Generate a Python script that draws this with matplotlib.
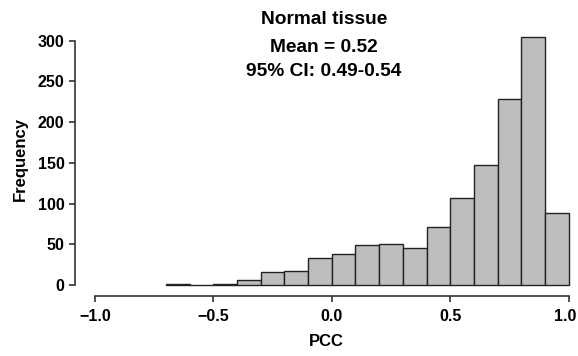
import numpy as np
import matplotlib
matplotlib.use("Agg")
import matplotlib.pyplot as plt
from matplotlib.transforms import ScaledTranslation

plt.rcParams['font.family'] = ['Liberation Sans', 'DejaVu Sans']
plt.rcParams['font.weight'] = 'bold'

# histogram bins (PCC) and counts
bin_edges = [-0.7, -0.6, -0.5, -0.4, -0.3, -0.2, -0.1, 0.0, 0.1, 0.2,
             0.3, 0.4, 0.5, 0.6, 0.7, 0.8, 0.9, 1.0]
counts = [1, 0, 1, 6, 16, 17, 33, 38, 49, 50, 45, 71, 107, 147, 229, 304, 88]

x_ticks = [-1.0, -0.5, 0.0, 0.5, 1.0]
x_labels = ['\u22121.0', '\u22120.5', '0.0', '0.5', '1.0']
y_ticks = [0, 50, 100, 150, 200, 250, 300]

W, H = 578, 356
fig = plt.figure(figsize=(W / 100, H / 100), dpi=100, facecolor='white')

# axes box in pixels: left spine at x=75, bottom spine at y=296
left_px, right_px, top_px, bottom_px = 75, 578, 22, 296
ax = fig.add_axes([left_px / W, 1 - bottom_px / H,
                   (right_px - left_px) / W, (bottom_px - top_px) / H])

ax.bar(bin_edges[:-1], counts, width=0.1, align='edge',
       color='#bebebe', edgecolor='#222222', linewidth=1.0)

ax.set_xlim(-1.085, 1.04)
ax.set_ylim(-13.5, 323)

for s in ['top', 'right']:
    ax.spines[s].set_visible(False)
ax.spines['left'].set_bounds(0, 300)
ax.spines['bottom'].set_bounds(-1.0, 1.0)
for s in ['left', 'bottom']:
    ax.spines[s].set_color('#333333')
    ax.spines[s].set_linewidth(1.2)

ax.set_xticks(x_ticks)
ax.set_xticklabels(x_labels)
ax.set_yticks(y_ticks)
ax.tick_params(axis='both', labelsize=11.5, length=4.5, width=1.2, color='#333333')
ax.tick_params(axis='x', pad=5)
ax.tick_params(axis='y', pad=3)

# last x label sits a little left of its tick, as in the reference
lab = ax.get_xticklabels()[-1]
lab.set_transform(lab.get_transform() + ScaledTranslation(-3 / 100, 0, fig.dpi_scale_trans))

ax.set_xlabel('PCC', fontsize=12, fontweight='bold', labelpad=7)
ax.set_ylabel('Frequency', fontsize=12, fontweight='bold', labelpad=7)

fig.text(324 / W, 1 - 19 / H, 'Normal tissue', ha='center', va='center',
         fontsize=13.8, fontweight='bold')
fig.text(324 / W, 1 - 47.5 / H, 'Mean = 0.52', ha='center', va='center',
         fontsize=13.8, fontweight='bold')
fig.text(324 / W, 1 - 71 / H, '95% CI: 0.49-0.54', ha='center', va='center',
         fontsize=13.8, fontweight='bold')

fig.savefig('out.png', dpi=100, facecolor='white')
